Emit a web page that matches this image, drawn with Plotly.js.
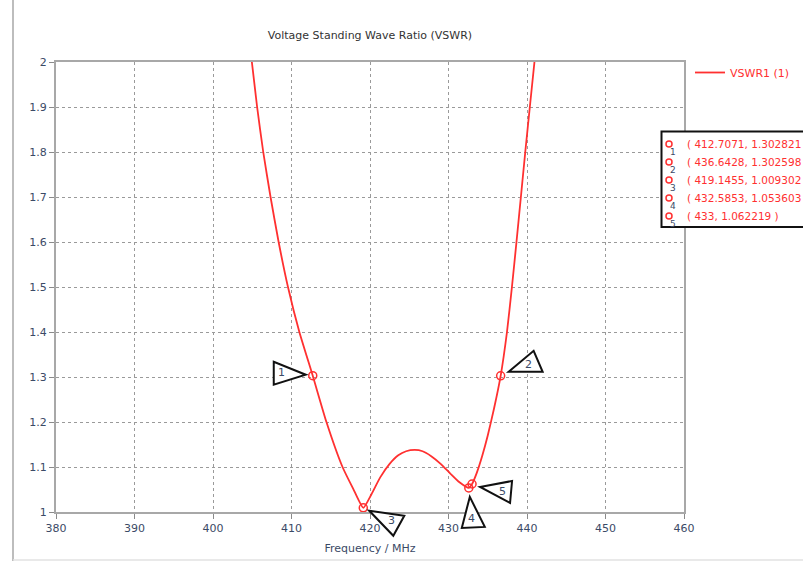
<!DOCTYPE html>
<html>
<head>
<meta charset="utf-8">
<script src="https://cdn.plot.ly/plotly-3.0.1.min.js"></script>
<style>html,body{margin:0;padding:0;background:#fff;}#chart{width:803px;height:561px;}</style>
</head>
<body>
<div id="chart"></div>
<script>
// ---- data ----
const freq = [404.95, 405.62, 406.4, 407.33, 408.36, 409.55, 411.0, 412.7071, 414.45, 416.5, 417.85, 419.1455,
              420.2, 421.3, 422.5, 423.6, 424.6, 425.7, 426.7, 427.8, 429.0, 430.2, 431.4, 432.5853,
              433.0, 433.6, 434.3, 435.0, 435.8, 436.6428, 437.45, 438.08, 438.66, 439.22, 439.78, 440.36, 440.95];
const vswr = [2.0, 1.9, 1.8, 1.7, 1.6, 1.5, 1.4, 1.302821, 1.2, 1.1, 1.052, 1.009302,
              1.04, 1.077, 1.107, 1.126, 1.135, 1.138, 1.135, 1.124, 1.107, 1.086, 1.066, 1.053603,
              1.062219, 1.087, 1.125, 1.17, 1.23, 1.302598, 1.4, 1.5, 1.6, 1.7, 1.8, 1.9, 2.0];
const markerIds  = ['1', '2', '3', '4', '5'];
const markerFreq = [412.7071, 436.6428, 419.1455, 432.5853, 433];
const markerVswr = [1.302821, 1.302598, 1.009302, 1.053603, 1.062219];
const xTicks = [380, 390, 400, 410, 420, 430, 440, 450, 460];
const yTicks = [1, 1.1, 1.2, 1.3, 1.4, 1.5, 1.6, 1.7, 1.8, 1.9, 2];
const yTickText = ['1', '1.1', '1.2', '1.3', '1.4', '1.5', '1.6', '1.7', '1.8', '1.9', '2'];
const seriesName = 'VSWR1 (1)';
const chartTitle = 'Voltage Standing Wave Ratio (VSWR)';
const xTitle = 'Frequency / MHz';

// ---- layout helpers ----
const XR = [380, 460], YR = [1, 2];
const L = 56, R = 684, T = 62, B = 512;
const W = 803, H = 561;
const px2x = p => (p - L) / (R - L);
const py2y = p => (B - p) / (B - T);
const d2x = v => (v - XR[0]) / (XR[1] - XR[0]);
const d2y = v => (v - YR[0]) / (YR[1] - YR[0]);

const FONT = 'DejaVu Sans, Tahoma, sans-serif';
const RED = '#ff3030';
const NAVY = '#3b4a66';

// triangle callouts (pixel offsets from the marker, y up)
const triPaths = [
  'M -39 14 L -39 -9 L -7 1 Z',
  'M 8 4 L 33 25 L 42 4 Z',
  'M 6 -3 L 41 -8 L 30 -28 Z',
  'M 1 -9 L -7 -40 L 16 -39 Z',
  'M 8 -3 L 40 3 L 38 -19 Z'
];
const labelShift = [[-31, 3], [28, 11], [28, -13], [3, -31], [30, -7]];

const shapes = [];
const annotations = [];

markerIds.forEach((id, i) => {
  shapes.push({
    type: 'path', xref: 'paper', yref: 'paper', xsizemode: 'pixel', ysizemode: 'pixel',
    xanchor: d2x(markerFreq[i]), yanchor: d2y(markerVswr[i]), path: triPaths[i],
    line: {color: '#111', width: 2}, fillcolor: '#fff', layer: 'above'
  });
  annotations.push({
    xref: 'paper', yref: 'paper', x: d2x(markerFreq[i]), y: d2y(markerVswr[i]), text: id, showarrow: false,
    xanchor: 'center', yanchor: 'middle',
    xshift: labelShift[i][0], yshift: labelShift[i][1],
    font: {family: FONT, size: 11, color: NAVY}
  });
});

// marker readout box
shapes.push({type: 'rect', xref: 'paper', yref: 'paper',
  x0: px2x(661.5), x1: px2x(830), y0: py2y(227), y1: py2y(131.5),
  line: {color: '#111', width: 2}, fillcolor: '#fff', layer: 'above'});
const rowY = [144, 162, 180, 198, 216];
markerIds.forEach((id, i) => {
  shapes.push({type: 'circle', xref: 'paper', yref: 'paper', xsizemode: 'pixel', ysizemode: 'pixel',
    xanchor: px2x(669), yanchor: py2y(rowY[i]), x0: -3, x1: 3, y0: -3, y1: 3,
    line: {color: RED, width: 1.5}, layer: 'above'});
  annotations.push({xref: 'paper', yref: 'paper', x: px2x(673), y: py2y(rowY[i] + 8), text: id,
    showarrow: false, xanchor: 'center', yanchor: 'middle', font: {family: FONT, size: 9, color: NAVY}});
  annotations.push({xref: 'paper', yref: 'paper', x: px2x(685), y: py2y(rowY[i]),
    text: '( ' + markerFreq[i] + ', ' + markerVswr[i] + ' )',
    showarrow: false, xanchor: 'left', yanchor: 'middle', font: {family: FONT, size: 10.5, color: RED}});
});

// outer frame lines
shapes.push({type: 'line', xref: 'paper', yref: 'paper', x0: px2x(13), x1: px2x(13), y0: py2y(H), y1: py2y(0),
  line: {color: '#bdbdbd', width: 2}, layer: 'below'});
shapes.push({type: 'line', xref: 'paper', yref: 'paper', x0: px2x(13), x1: px2x(W), y0: py2y(560), y1: py2y(560),
  line: {color: '#e2e2e2', width: 1.5}, layer: 'below'});

const traces = [
  {x: freq, y: vswr, type: 'scatter', mode: 'lines', name: seriesName,
   line: {color: RED, width: 1.8, shape: 'spline', smoothing: 0.5}, hoverinfo: 'x+y'},
  {x: markerFreq, y: markerVswr, type: 'scatter', mode: 'markers', showlegend: false,
   marker: {symbol: 'circle-open', size: 8, color: RED, line: {width: 1.5, color: RED}}}
];

const axisCommon = {
  showline: true, linecolor: '#a8a8a8', linewidth: 2, mirror: true,
  showgrid: true, gridcolor: '#9a9a9a', griddash: 'dot', gridwidth: 1,
  ticks: 'outside', ticklen: 5, tickcolor: '#8a8a8a', tickwidth: 1,
  zeroline: false, tickfont: {family: FONT, size: 11, color: NAVY}
};

const layout = {
  width: W, height: H,
  margin: {l: L, r: W - R, t: T, b: H - B, pad: 0, autoexpand: false},
  paper_bgcolor: '#fff', plot_bgcolor: '#fff',
  title: {text: chartTitle, x: 0.5, xref: 'paper', y: 1 - 35 / H, yanchor: 'middle',
          font: {family: FONT, size: 11, color: '#333'}},
  xaxis: Object.assign({}, axisCommon, {range: XR, tickvals: xTicks, ticktext: xTicks.map(String),
          automargin: false,
          title: {text: xTitle, standoff: 10, font: {family: FONT, size: 11, color: NAVY}}}),
  yaxis: Object.assign({}, axisCommon, {range: YR, tickvals: yTicks, ticktext: yTickText, automargin: false}),
  showlegend: true,
  legend: {x: px2x(690), y: py2y(58), xanchor: 'left', yanchor: 'top', bgcolor: 'rgba(0,0,0,0)',
           font: {family: FONT, size: 11, color: RED}, itemwidth: 30},
  shapes: shapes, annotations: annotations
};

Plotly.newPlot('chart', traces, layout, {staticPlot: true, displayModeBar: false});
</script>
</body>
</html>
